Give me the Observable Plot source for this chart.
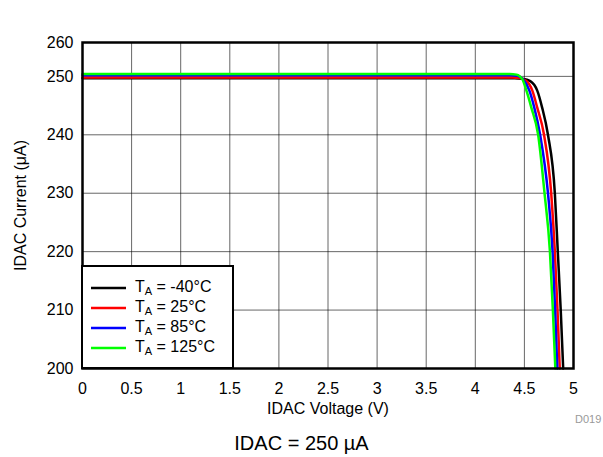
<!DOCTYPE html>
<html><head><meta charset="utf-8">
<script src="https://cdn.jsdelivr.net/npm/d3@7"></script>
<script src="https://cdn.jsdelivr.net/npm/@observablehq/plot@0.6"></script>
<style>
body{margin:0;background:#fff;font-family:"Liberation Sans",Arial,Helvetica,sans-serif;}
#wrap{position:relative;width:603px;height:457px;overflow:hidden;}
#legend{position:absolute;left:81px;top:265px;width:149px;height:100px;border:2px solid #000;background:#fff;box-sizing:content-box;}
.row{position:absolute;left:0;height:20px;font-size:16px;color:#000;white-space:nowrap;}
.row svg{position:absolute;left:8px;top:9px;}
.row span{position:absolute;left:52px;top:0;line-height:20px;}
.row sub{font-size:11px;vertical-align:-3px;}
#code{position:absolute;left:575px;top:413px;font-size:11px;color:#999;}
#caption{position:absolute;left:0;width:603px;top:432px;text-align:center;font-size:20px;color:#000;}
</style></head><body><div id="wrap"></div>
<script>
// Data
const seriesNames = ["-40°C", "25°C", "85°C", "125°C"];
const seriesColors = ["#000000", "#ff0000", "#0000ff", "#00ff00"];
const voltsM40 = [0, 4.40, 4.48, 4.56, 4.63, 4.68, 4.74, 4.81, 4.84, 4.87, 4.895];
const currM40  = [249.7, 249.7, 249.6, 249.2, 247.6, 244.7, 240, 230, 220, 210, 200];
const volts25  = [0, 4.38, 4.45, 4.52, 4.58, 4.63, 4.70, 4.773, 4.81, 4.837, 4.86];
const curr25   = [249.8, 249.8, 249.7, 249.2, 247.6, 244.7, 240, 230, 220, 210, 200];
const volts85  = [0, 4.36, 4.43, 4.49, 4.55, 4.60, 4.66, 4.74, 4.787, 4.813, 4.835];
const curr85   = [250.2, 250.2, 250.1, 249.4, 247.6, 244.7, 240, 230, 220, 210, 200];
const volts125 = [0, 4.35, 4.42, 4.48, 4.52, 4.57, 4.64, 4.705, 4.76, 4.79, 4.815];
const curr125  = [250.4, 250.4, 250.3, 249.5, 247.6, 244.7, 240, 230, 220, 210, 200];
const xTicks = [0, 0.5, 1, 1.5, 2, 2.5, 3, 3.5, 4, 4.5, 5];
const xTickLabels = ["0", "0.5", "1", "1.5", "2", "2.5", "3", "3.5", "4", "4.5", "5"];
const yTicks = [200, 210, 220, 230, 240, 250, 255.8];
const yTickLabels = ["200", "210", "220", "230", "240", "250", "260"];
const xGrid = [0.5, 1, 1.5, 2, 2.5, 3, 3.5, 4, 4.5];
const yGrid = [210, 220, 230, 240, 250];
const xLabel = "IDAC Voltage (V)";
const yLabel = "IDAC Current (\u03bcA)";
const caption = "IDAC = 250 \u00b5A";
const code = "D019";

const allV = [voltsM40, volts25, volts85, volts125];
const allI = [currM40, curr25, curr85, curr125];
const data = [];
allV.forEach((vs, s) => vs.forEach((v, i) => data.push({s: seriesNames[s], v, i: allI[s][i]})));

const chart = Plot.plot({
  width: 603, height: 420,
  marginLeft: 82, marginRight: 30, marginTop: 42, marginBottom: 52,
  style: {fontFamily: "'Liberation Sans', Arial, sans-serif", fontSize: "16px", color: "#000", background: "#fff"},
  x: {domain: [0, 5]},
  y: {domain: [200, 255.8]},
  color: {domain: seriesNames, range: seriesColors},
  marks: [
    Plot.gridX(xGrid, {stroke: "#000", strokeOpacity: 0.6, strokeWidth: 1}),
    Plot.gridY(yGrid, {stroke: "#000", strokeOpacity: 0.6, strokeWidth: 1}),
    Plot.line(data, {x: "v", y: "i", z: "s", stroke: "s", strokeWidth: 2.5, curve: "monotone-x"}),
    Plot.frame({stroke: "#000", strokeWidth: 2.5}),
    Plot.axisX(xTicks, {tickSize: 0, tickPadding: 14, tickFormat: (d, i) => xTickLabels[xTicks.indexOf(d)],
      label: xLabel, labelAnchor: "center", labelArrow: "none", labelOffset: 45, fontSize: 16}),
    Plot.axisY(yTicks, {tickSize: 0, tickPadding: 9, tickFormat: d => yTickLabels[yTicks.indexOf(d)],
      label: yLabel, labelAnchor: "center", labelArrow: "none", labelOffset: 68, fontSize: 16})
  ]
});
const wrap = document.getElementById("wrap");
wrap.appendChild(chart);

const legend = document.createElement("div");
legend.id = "legend";
seriesNames.forEach((n, k) => {
  const row = document.createElement("div");
  row.className = "row";
  row.style.top = (10 + k * 20) + "px";
  row.innerHTML = `<svg width="36" height="4"><line x1="0" y1="2" x2="35" y2="2" stroke="${seriesColors[k]}" stroke-width="2.5"/></svg><span>T<sub>A</sub> = ${n}</span>`;
  legend.appendChild(row);
});
wrap.appendChild(legend);
const c = document.createElement("div"); c.id = "code"; c.textContent = code; wrap.appendChild(c);
const cap = document.createElement("div"); cap.id = "caption"; cap.textContent = caption; wrap.appendChild(cap);
</script></body></html>
